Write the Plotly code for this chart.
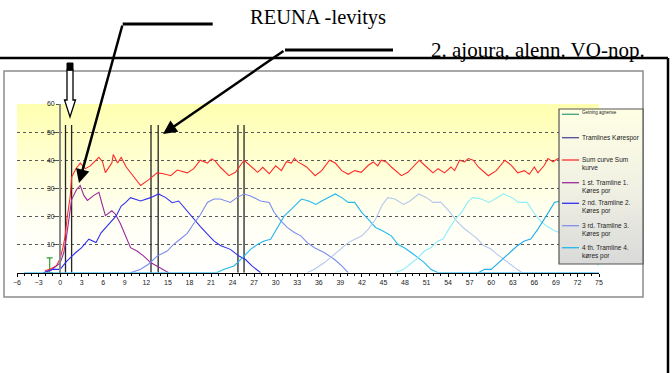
import plotly.graph_objects as go

W, H = 672, 373
def fx(p): return p / W
def fy(p): return 1 - p / H

# ---------------- data ----------------
sum_x = [-2.1, -1.2, -0.5, 0.0, 0.4, 0.7, 1.0, 1.4, 1.6, 2.2,
         2.8, 3.5, 4.2, 5.4, 5.9, 6.3, 7.2, 7.4, 8.0, 8.5,
         9.2, 10.1, 11.2, 12.3, 13.5, 14.4, 15.4, 16.3, 17.2, 17.7,
         18.6, 19.5, 20.5, 21.1, 21.6, 22.3, 23.5, 24.4, 25.6, 26.5,
         27.5, 28.2, 29.1, 30.0, 30.8, 31.5, 32.2, 32.6, 33.1, 34.3,
         35.5, 36.4, 37.5, 38.3, 39.2, 40.1, 41.0, 41.9, 42.9, 43.6,
         44.2, 44.7, 45.4, 46.1, 47.5, 48.4, 50.0, 51.0, 51.9, 52.6,
         53.5, 54.4, 54.9, 55.6, 56.3, 56.8, 57.5, 58.2, 59.6, 60.7,
         61.9, 62.8, 63.7, 64.6, 65.3, 66.0, 66.5, 67.4, 67.9, 68.6,
         69.3, 70.5, 72.0, 73.5, 75.0]
sum_y = [0.7, 1.5, 2.5, 5.0, 9.0, 13.0, 20.0, 27.0, 34.0, 37.0,
         39.0, 37.0, 38.0, 41.0, 39.5, 35.6, 39.0, 42.0, 39.0, 41.0,
         37.6, 34.6, 31.0, 33.0, 35.5, 35.2, 34.5, 36.5, 36.0, 35.5,
         37.0, 40.0, 39.0, 40.5, 39.7, 37.5, 34.5, 35.7, 40.0, 38.0,
         35.7, 37.5, 35.2, 38.0, 36.3, 39.5, 39.0, 40.7, 39.4, 37.6,
         34.5, 36.3, 40.0, 39.0, 36.3, 35.0, 36.3, 35.7, 38.2, 39.4,
         38.0, 40.0, 39.4, 37.6, 34.5, 35.7, 40.0, 37.6, 35.5, 37.0,
         35.5, 37.6, 36.3, 40.0, 39.4, 40.6, 40.0, 37.6, 34.5, 36.3,
         40.0, 38.2, 35.5, 36.3, 35.0, 37.6, 35.5, 38.2, 40.6, 39.4,
         40.6, 38.0, 36.0, 39.0, 37.0]

t1_x = [-2.3, -1.2, 0.0, 0.5, 0.9, 1.3, 1.6, 2.3, 2.8, 3.3,
        3.8, 4.7, 5.4, 5.9, 6.3, 7.2, 7.7, 8.4, 9.1, 9.8,
        10.7, 11.6, 12.6, 13.5, 14.4, 15.1]
t1_y = [0, 1.0, 3.5, 7.0, 13.0, 20.0, 26.0, 29.6, 31.0, 27.5,
        25.7, 27.5, 28.6, 23.9, 20.3, 22.0, 20.8, 17.4, 13.2, 8.9,
        7.7, 6.0, 3.6, 2.4, 1.0, 0]

t2_x = [-2.3, -1.0, 0.0, 0.9, 2.1, 3.0, 4.0, 5.0, 5.7, 6.9,
        7.8, 8.5, 9.1, 9.8, 11.2, 12.6, 13.7, 14.7, 15.6, 16.5,
        17.5, 18.4, 19.5, 20.5, 21.4, 22.3, 23.7, 24.9, 25.8, 26.7,
        27.9]
t2_y = [0, 1.2, 1.2, 4.0, 7.0, 8.9, 11.9, 10.7, 14.2, 17.8,
        20.2, 23.7, 24.9, 26.7, 25.5, 26.7, 28.0, 26.7, 24.9, 25.5,
        22.5, 19.5, 16.5, 13.7, 11.3, 9.7, 8.3, 5.9, 4.7, 2.4,
        0]

t3_x = [9.8, 11.2, 12.3, 13.5, 14.9, 15.8, 16.7, 17.7, 18.6, 19.5,
        20.5, 21.4, 22.3, 23.7, 24.6, 25.6, 26.5, 27.9, 29.1, 29.8,
        30.7, 31.6, 32.6, 33.5, 34.4, 35.4, 36.8, 38.2, 39.2, 40.1]
t3_y = [0, 1.2, 3.0, 5.9, 7.7, 10.1, 11.9, 14.0, 17.5, 20.5,
        25.0, 26.2, 26.2, 25.0, 26.7, 28.0, 27.3, 25.5, 25.0, 21.4,
        18.5, 16.1, 14.3, 13.1, 10.7, 8.9, 7.1, 4.7, 2.4, 0]

t4_x = [-5.0, 21.8, 22.8, 24.2, 25.6, 26.5, 27.5, 28.4, 29.3, 30.3,
        31.2, 32.2, 33.1, 33.6, 34.6, 35.6, 36.4, 37.4, 38.3, 39.2,
        40.1, 41.0, 42.0, 42.9, 43.9, 44.8, 46.1, 47.0, 47.9, 48.9,
        49.8, 50.7, 51.6, 52.6, 75.0]
t4_y = [0, 0, 1.2, 2.4, 5.9, 8.3, 10.1, 11.3, 11.9, 16.1,
        20.2, 22.6, 25.0, 26.2, 25.5, 24.3, 25.5, 26.7, 28.0, 26.7,
        25.0, 25.0, 21.4, 19.0, 16.1, 15.0, 13.1, 10.1, 8.9, 7.1,
        5.3, 3.6, 1.2, 0, 0]

t5_x = [34.4, 35.4, 36.8, 37.9, 39.2, 40.1, 41.0, 42.0, 42.9, 43.9,
        44.8, 45.6, 46.6, 47.8, 48.7, 49.9, 51.0, 51.9, 53.0, 54.1,
        55.2, 56.2, 57.1, 58.0, 58.9, 59.9, 60.8, 61.7, 62.6, 63.6,
        64.3]
t5_y = [0, 1.2, 3.6, 5.9, 8.9, 10.7, 11.9, 13.1, 15.5, 19.0,
        24.0, 26.7, 26.2, 24.3, 25.5, 28.0, 26.7, 25.0, 25.0, 22.0,
        18.3, 15.8, 14.0, 12.2, 9.7, 8.5, 6.6, 4.8, 3.0, 1.2,
        0]

t6_x = [46.6, 47.8, 48.7, 49.6, 50.7, 51.6, 52.6, 53.3, 54.1, 55.0,
        56.0, 56.7, 57.4, 58.6, 59.7, 60.8, 61.7, 62.9, 63.8, 65.0,
        65.9, 66.8, 67.7, 68.8, 69.5, 71.0, 73.0, 75.0]
t6_y = [0, 1.2, 3.0, 4.8, 7.7, 8.9, 11.3, 12.0, 15.5, 19.0,
        22.0, 25.0, 26.7, 26.2, 25.0, 26.7, 28.0, 26.7, 25.0, 25.0,
        21.4, 18.5, 16.6, 14.9, 14.3, 11.0, 6.0, 2.5]

t7_x = [58.2, 59.1, 60.0, 60.8, 61.7, 62.6, 63.6, 64.6, 65.5, 66.5,
        67.4, 68.1, 68.8, 69.5, 71.0, 73.0, 75.0]
t7_y = [0, 1.2, 1.2, 3.0, 5.3, 7.1, 9.5, 11.3, 12.0, 15.5,
        19.0, 22.0, 25.0, 25.5, 26.5, 27.0, 28.0]

germ_x = [-1.45]
germ_y = [0]
germ_err = [5.3]

tram_x = [0.75, 1.6, 12.65, 13.65, 24.75, 25.6]
tram_top = 52.5

x_range = [-6, 75]
y_range = [0, 60]
y_ticks = [10, 20, 30, 40, 50, 60]

legend_names = ["Getning agnense",
                "Tramlines Kørespor",
                "Sum curve Sum<br>kurve",
                "1 st. Tramline 1.<br>Køres por",
                "2 nd. Tramline 2.<br>Køres por",
                "3 rd. Tramline 3.<br>Køres por",
                "4 th. Tramline 4.<br>køres por"]
legend_colors = ['#3aa57a', '#4b4b9b', '#ff2a2a', '#9b2a9b', '#3030f0', '#8090f0', '#22b8f0']
legend_sizes = [4.5, 6.5, 6.5, 6.5, 6.5, 6.5, 6.5]

# --------------- geometry (pixels) --------------
PL, PR, PT, PB = 17, 599, 104, 272.7
LG_L, LG_R, LG_T, LG_B = 559, 643, 109, 264
LG_ROW_Y = [114.3, 137.7, 160.0, 182.7, 203.3, 225.7, 247.7]
xdom = [fx(PL), fx(PR)]
ydom = [fy(PB), fy(PT)]
yaxis_pos = fx(PL + (0 - x_range[0]) / (x_range[1] - x_range[0]) * (PR - PL))

fig = go.Figure()

# plot-area gradient background (subplot 1, underneath)
fig.add_trace(go.Scatter(x=[0, 1, 1, 0, 0], y=[0, 0, 1, 1, 0], mode='lines',
                         line=dict(width=0), fill='toself',
                         fillgradient=dict(type='vertical',
                                           colorscale=[[0, '#ffffff'], [0.35, '#fffff2'], [1, '#ffffb0']]),
                         xaxis='x', yaxis='y', showlegend=False, hoverinfo='skip'))

lw = 1.1
XA, YA = 'x2', 'y2'
fig.add_trace(go.Scatter(x=germ_x, y=germ_y, mode='lines', name=legend_names[0],
                         line=dict(color=legend_colors[0], width=1.2),
                         error_y=dict(type='data', array=germ_err, arrayminus=[0] * len(germ_x),
                                      color='#2ca02c', thickness=1.2, width=3),
                         xaxis=XA, yaxis=YA, showlegend=False))
# tramline vertical markers
vx, vy = [], []
for t in tram_x:
    vx += [t, t, None]
    vy += [y_range[0], tram_top, None]
fig.add_trace(go.Scatter(x=vx, y=vy, mode='lines', name=legend_names[1], showlegend=False,
                         line=dict(color='#262626', width=1.3), xaxis=XA, yaxis=YA))

fig.add_trace(go.Scatter(x=sum_x, y=sum_y, mode='lines', name=legend_names[2], showlegend=False,
                         line=dict(color=legend_colors[2], width=lw), xaxis=XA, yaxis=YA))
series = [(t1_x, t1_y, legend_colors[3], legend_names[3]),
          (t2_x, t2_y, legend_colors[4], legend_names[4]),
          (t3_x, t3_y, '#7b8cf0', legend_names[5]),
          (t4_x, t4_y, legend_colors[6], legend_names[6]),
          (t5_x, t5_y, '#b4c8ec', 'Tramline 5'),
          (t6_x, t6_y, '#8eeefa', 'Tramline 6'),
          (t7_x, t7_y, '#22aee8', 'Tramline 7')]
for xs, ys, c, n in series:
    fig.add_trace(go.Scatter(x=xs, y=ys, mode='lines', name=n, showlegend=False,
                             line=dict(color=c, width=lw), xaxis=XA, yaxis=YA))

# legend box gradient (subplot 3, on top of data)
fig.add_trace(go.Scatter(x=[0, 1, 1, 0, 0], y=[0, 0, 1, 1, 0], mode='lines',
                         line=dict(width=0), fill='toself',
                         fillgradient=dict(type='vertical',
                                           colorscale=[[0, '#d9d9d9'], [0.5, '#f1f1e4'], [1, '#ffffe4']]),
                         xaxis='x3', yaxis='y3', showlegend=False, hoverinfo='skip'))

tickfont = dict(family='Liberation Sans, Arial', size=7, color='#222')

shapes = [
    dict(type='rect', xref='paper', yref='paper', x0=fx(4), x1=fx(643), y0=fy(297), y1=fy(71),
         line=dict(color='#8c8c8c', width=1.5), layer='below'),
    dict(type='line', xref='paper', yref='paper', x0=fx(0), x1=fx(668), y0=fy(58), y1=fy(58),
         line=dict(color='black', width=2.5)),
    dict(type='line', xref='paper', yref='paper', x0=fx(668), x1=fx(668), y0=fy(58), y1=fy(373),
         line=dict(color='black', width=2.5)),
    dict(type='rect', xref='paper', yref='paper', x0=fx(LG_L), x1=fx(LG_R), y0=fy(LG_B), y1=fy(LG_T),
         line=dict(color='#555555', width=1.2)),
    # leader lines
    dict(type='line', xref='paper', yref='paper', x0=fx(122.7), x1=fx(212.7), y0=fy(24), y1=fy(24),
         line=dict(color='black', width=3)),
    dict(type='line', xref='paper', yref='paper', x0=fx(285), x1=fx(393), y0=fy(50), y1=fy(50),
         line=dict(color='black', width=3)),
]
# hollow down arrow
ax_c = 70
pts = [(ax_c - 3, 70), (ax_c - 3, 100), (ax_c - 5.5, 100), (ax_c, 117),
       (ax_c + 5.5, 100), (ax_c + 3, 100), (ax_c + 3, 70)]
path = 'M ' + ' L '.join(f'{fx(a):.5f},{fy(b):.5f}' for a, b in pts) + ' Z'
shapes.append(dict(type='path', xref='paper', yref='paper', path=path,
                   fillcolor='white', line=dict(color='black', width=1.3)))
shapes.append(dict(type='rect', xref='paper', yref='paper', x0=fx(ax_c - 3), x1=fx(ax_c + 3),
                   y0=fy(70), y1=fy(63), fillcolor='black', line=dict(color='black', width=1)))

annotations = [
    dict(text='REUNA -levitys', xref='paper', yref='paper', x=fx(248), y=fy(17),
         xanchor='left', yanchor='middle', showarrow=False,
         font=dict(family='Liberation Serif, Times New Roman', size=20.5, color='black')),
    dict(text='2. ajoura, alenn. VO-nop.', xref='paper', yref='paper', x=fx(429), y=fy(50),
         xanchor='left', yanchor='middle', showarrow=False,
         font=dict(family='Liberation Serif, Times New Roman', size=21, color='black')),
    dict(text='', xref='paper', yref='paper', x=fx(79), y=fy(183), ax=122.7 - 79, ay=24 - 183,
         axref='pixel', ayref='pixel', showarrow=True, arrowhead=2, arrowsize=1.1,
         arrowwidth=2.5, arrowcolor='black', standoff=0, startstandoff=0),
    dict(text='', xref='paper', yref='paper', x=fx(163), y=fy(134), ax=285 - 163, ay=50 - 134,
         axref='pixel', ayref='pixel', showarrow=True, arrowhead=2, arrowsize=1.1,
         arrowwidth=2.5, arrowcolor='black', standoff=0, startstandoff=0),
]

# manual legend (Excel-style box)
for name, col, fs, ry in zip(legend_names, legend_colors, legend_sizes, LG_ROW_Y):
    shapes.append(dict(type='line', xref='paper', yref='paper', x0=fx(562), x1=fx(579),
                       y0=fy(ry), y1=fy(ry), line=dict(color=col, width=1.3)))
    annotations.append(dict(text=name, xref='paper', yref='paper', x=fx(581), y=fy(ry - 5),
                            xanchor='left', yanchor='top', align='left', showarrow=False,
                            borderpad=0,
                            font=dict(family='Liberation Sans, Arial', size=fs, color='#222')))

fig.update_layout(
    width=W, height=H, margin=dict(l=0, r=0, t=0, b=0),
    paper_bgcolor='white', plot_bgcolor='rgba(0,0,0,0)', showlegend=False,
    xaxis=dict(domain=xdom, range=[0, 1], visible=False, fixedrange=True),
    yaxis=dict(domain=ydom, range=[0, 1], visible=False, fixedrange=True),
    xaxis2=dict(domain=xdom, anchor='y2', range=x_range, tick0=x_range[0], dtick=3,
                showline=True, linecolor='black', linewidth=1, ticks='outside', ticklen=3,
                tickcolor='black', tickfont=tickfont, showgrid=False, zeroline=False,
                minor=dict(dtick=1, ticks='outside', ticklen=2, tickcolor='black'),
                automargin=False),
    yaxis2=dict(domain=ydom, anchor='free', position=yaxis_pos, range=y_range,
                tickvals=y_ticks, showline=True, linecolor='#8a8a8a', linewidth=2,
                ticks='outside', ticklen=3, tickcolor='#555', tickfont=tickfont,
                showgrid=True, gridcolor='#5a5a5a', griddash='3px,3px', gridwidth=1,
                zeroline=False, automargin=False),
    xaxis3=dict(domain=[fx(LG_L), fx(LG_R)], range=[0, 1], visible=False, anchor='y3', fixedrange=True),
    yaxis3=dict(domain=[fy(LG_B), fy(LG_T)], range=[0, 1], visible=False, anchor='x3', fixedrange=True),
    shapes=shapes, annotations=annotations,
)

fig.write_html('out.html', config={'displayModeBar': False},
               post_script="document.body.style.margin='0';")
